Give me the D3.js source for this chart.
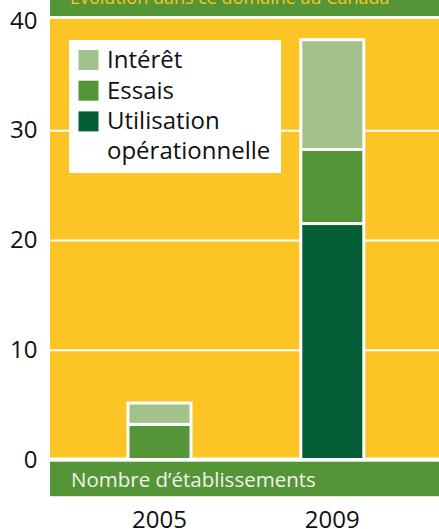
<!DOCTYPE html>
<html>
<head>
<meta charset="utf-8">
<script src="https://cdn.jsdelivr.net/npm/d3@7"></script>
<style>
html,body{margin:0;padding:0;background:#fff;}
svg{display:block;font-family:"Open Sans",sans-serif;}
</style>
</head>
<body>
<div id="chart"></div>
<script>
// ---- data ----
const years = ["2005", "2009"];
const utilisation = [0, 21.5];
const essais = [3.2, 6.75];
const interet = [1.95, 10.0];
const seriesNames = ["Utilisation opérationnelle", "Essais", "Intérêt"];
const legendLines = [["Intérêt"], ["Essais"], ["Utilisation", "opérationnelle"]];
const yTicks = [0, 10, 20, 30, 40];
const title = "Évolution dans ce domaine au Canada";
const bandLabel = "Nombre d’établissements";

// ---- styles ----
const W = 439, H = 529;
const YELLOW = "#fdc425", GREEN = "#549637", LIGHT = "#a3c18a", DARK = "#035e35";
const colors = {"Utilisation opérationnelle": DARK, "Essais": GREEN, "Intérêt": LIGHT};

const rows = years.map((y, i) => ({year: y, "Utilisation opérationnelle": utilisation[i], "Essais": essais[i], "Intérêt": interet[i]}));
const stack = d3.stack().keys(seriesNames)(rows);

const svg = d3.select("#chart").append("svg").attr("width", W).attr("height", H);

const plotL = 50, plotR = 439;
const y = d3.scaleLinear().domain([0, 40]).range([459.5, 20.5]);
const x = d3.scaleBand().domain(years).range([73.1, 418.7]);
const barW = 63;

// top banner
svg.append("rect").attr("x", plotL).attr("y", 0).attr("width", plotR - plotL).attr("height", 16).attr("fill", GREEN);
svg.append("text").attr("x", 70).attr("y", 3.5).attr("fill", YELLOW).attr("font-size", 18).text(title);

// yellow plot area
svg.append("rect").attr("x", plotL).attr("y", y(40) - 1.5).attr("width", plotR - plotL)
  .attr("height", (y(0) - 2) - (y(40) - 1.5)).attr("fill", YELLOW);

// gridlines
const grid = svg.append("g").attr("transform", `translate(${plotL},0)`)
  .call(d3.axisLeft(y).tickValues([10, 20, 30]).tickSize(-(plotR - plotL)).tickFormat(""));
grid.select(".domain").remove();
grid.selectAll("line").attr("stroke", "#fff").attr("stroke-width", 2);

// y tick labels
const yAx = svg.append("g").attr("transform", "translate(37.5,0)")
  .call(d3.axisLeft(y).tickValues(yTicks).tickSize(0).tickPadding(0));
yAx.select(".domain").remove();
yAx.selectAll("text").attr("font-family", "Open Sans").attr("font-size", 24).attr("fill", "#111");

// legend
const lg = svg.append("g");
lg.append("rect").attr("x", 69).attr("y", 40).attr("width", 212).attr("height", 133).attr("fill", "#fff");
const legendKeys = ["Intérêt", "Essais", "Utilisation opérationnelle"];
legendKeys.forEach((k, i) => {
  const top = 50 + i * 30.7;
  lg.append("rect").attr("x", 78.5).attr("y", top).attr("width", 20).attr("height", 20).attr("fill", colors[k]);
  legendLines[i].forEach((line, j) => {
    lg.append("text").attr("x", 107).attr("y", top + 17.8 + j * 29.5)
      .attr("font-size", 24).attr("fill", "#111").text(line);
  });
});

// bars
svg.append("g").selectAll("g").data(stack).join("g")
  .attr("fill", d => colors[d.key])
  .selectAll("rect").data(d => d.filter(p => p[1] - p[0] > 0)).join("rect")
  .attr("x", d => x(d.data.year) + x.bandwidth() / 2 - barW / 2)
  .attr("y", d => y(d[1]))
  .attr("width", barW)
  .attr("height", d => y(d[0]) - y(d[1]))
  .attr("stroke", "#fff").attr("stroke-width", 3);

// bottom band
svg.append("rect").attr("x", plotL).attr("y", y(0) + 2.2).attr("width", plotR - plotL).attr("height", 34.5).attr("fill", GREEN);
svg.append("text").attr("x", 71).attr("y", 487).attr("fill", "#f2f2ea").attr("font-size", 20.5).text(bandLabel);

// x axis labels
const xAx = svg.append("g").attr("transform", "translate(0,528)")
  .call(d3.axisBottom(x).tickSize(0).tickPadding(0));
xAx.select(".domain").remove();
xAx.selectAll("text").attr("font-family", "Open Sans").attr("font-size", 24).attr("fill", "#111").attr("dy", 0);
</script>
</body>
</html>
